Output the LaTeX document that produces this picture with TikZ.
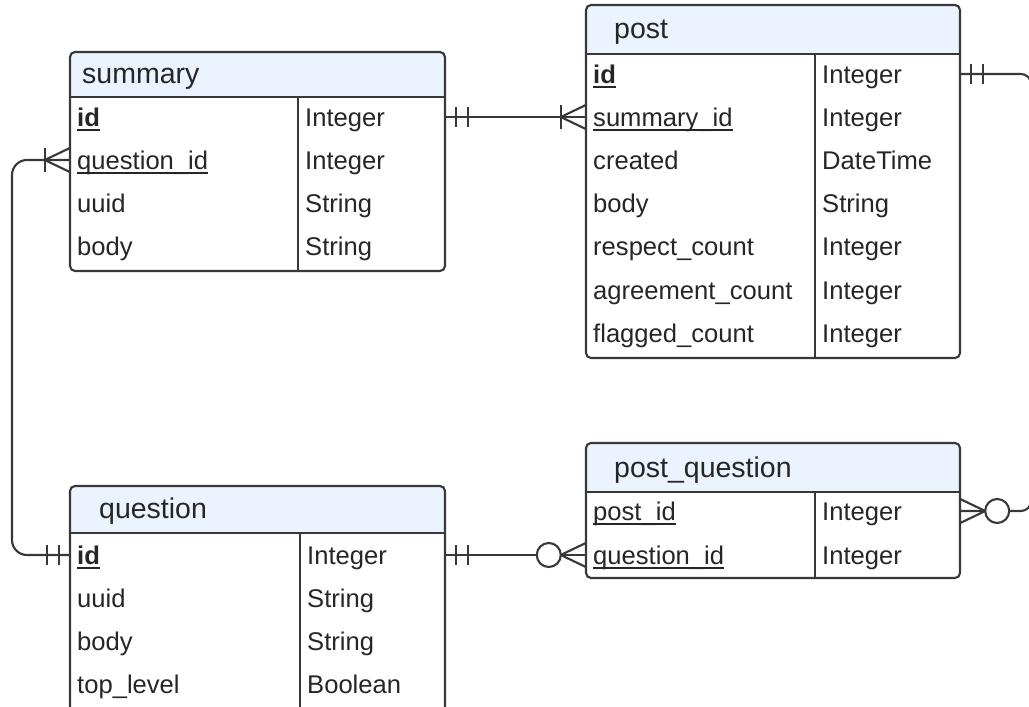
\documentclass[tikz,border=0pt]{standalone}
\usepackage{fontspec}
\setmainfont{Liberation Sans}
\usetikzlibrary{calc}

\definecolor{linec}{HTML}{383838}
\definecolor{hdrfill}{HTML}{EBF3FE}
\definecolor{txt}{HTML}{262626}

% underline at a fixed depth below the baseline
\newcommand\ul[1]{\setbox0\hbox{#1}\rlap{\rule[-4.5pt]{\wd0}{1.6pt}}\box0}
\newcommand\ulb[1]{\setbox0\hbox{\bfseries #1}\rlap{\rule[-4.5pt]{\wd0}{2pt}}\box0}

\tikzset{
  frame/.style={draw=linec, line width=2.1pt, rounded corners=5pt},
  rulel/.style={draw=linec, line width=2.1pt},
  conn/.style={draw=linec, line width=2.1pt},
  cell/.style={anchor=base west, inner sep=0pt, text=txt, font=\fontsize{25.6}{30}\selectfont},
  title/.style={anchor=base west, inner sep=0pt, text=txt, font=\fontsize{28.5}{34}\selectfont},
  rowbox/.style={minimum height=43pt, inner sep=0pt, draw=none},
}

% table body: #1 left, #2 right, #3 top, #4 header bottom, #5 bottom, #6 divider
\newcommand\ertable[6]{%
  \begin{scope}
    \clip (#1,#3) rectangle (#2,#4);
    \fill[hdrfill, rounded corners=5pt] (#1,#3) rectangle (#2,#4+10);
  \end{scope}
  \draw[frame] (#1,#3) rectangle (#2,#5);
  \draw[rulel] (#1,#4) -- (#2,#4);
  \draw[rulel] (#6,#4) -- (#6,#5);
}

% one row: #1 name, #2 left, #3 right, #4 divider, #5 centre y, #6 field, #7 type
\newcommand\erow[7]{%
  \node[rowbox, minimum width={#3-#2}] (#1) at ({(#2+#3)/2},#5) {};
  \node[cell] (#1-f) at ({#2+7},{#5+9}) {#6};
  \node[cell] (#1-t) at ({#4+7},{#5+9}) {#7};
}

% connector ends; #2 = +1 for marks to the right of the anchor, -1 to the left
\newcommand\bars[2]{%
  \draw[conn] ($(#1)+(#2*11,-10)$) -- ++(0,20);
  \draw[conn] ($(#1)+(#2*23,-10)$) -- ++(0,20);}
\newcommand\crow[2]{%
  \draw[conn] ($(#1)+(0,-12)$) -- ($(#1)+(#2*25,0)$) -- ($(#1)+(0,12)$);}
\newcommand\crowbar[2]{%
  \draw[conn] ($(#1)+(#2*25,-12)$) -- ++(0,24);}
\newcommand\ring[2]{%
  \draw[conn, fill=white] ($(#1)+(#2*37,0)$) circle (12pt);}

\begin{document}
\begin{tikzpicture}[x=1pt, y=-1pt]
\useasboundingbox (0,0) rectangle (1029,707);
\clip (0,0) rectangle (1029,707);
\fill[white] (0,0) rectangle (1029,707);

% summary
\ertable{70}{445}{52}{97}{271}{298}
\node[title] (s-h) at (82,83) {summary};
\erow{s-id}{70}{445}{298}{117}{\ulb{id}}{Integer}
\erow{s-qid}{70}{445}{298}{160}{\ul{question\_id}}{Integer}
\erow{s-uuid}{70}{445}{298}{203}{uuid}{String}
\erow{s-body}{70}{445}{298}{246}{body}{String}

% post
\ertable{586}{960}{5}{54}{358}{815}
\node[title] (p-h) at (614,38) {post};
\erow{p-id}{586}{960}{815}{74}{\ulb{id}}{Integer}
\erow{p-sid}{586}{960}{815}{117}{\ul{summary\_id}}{Integer}
\erow{p-created}{586}{960}{815}{160}{created}{DateTime}
\erow{p-body}{586}{960}{815}{203}{body}{String}
\erow{p-resp}{586}{960}{815}{246}{respect\_count}{Integer}
\erow{p-agree}{586}{960}{815}{290}{agreement\_count}{Integer}
\erow{p-flag}{586}{960}{815}{333}{flagged\_count}{Integer}

% question
\ertable{70}{445}{486}{533}{712}{300}
\node[title] (q-h) at (99,518) {question};
\erow{q-id}{70}{445}{300}{555}{\ulb{id}}{Integer}
\erow{q-uuid}{70}{445}{300}{598}{uuid}{String}
\erow{q-body}{70}{445}{300}{641}{body}{String}
\erow{q-top}{70}{445}{300}{684}{top\_level}{Boolean}

% post_question
\ertable{586}{960}{443}{492}{578}{815}
\node[title] (pq-h) at (614,477) {post\_question};
\erow{pq-pid}{586}{960}{815}{511}{\ul{post\_id}}{Integer}
\erow{pq-qid}{586}{960}{815}{555}{\ul{question\_id}}{Integer}

% relations
\coordinate (lt) at (12,350);
\coordinate (rt) at (1031,300);

\draw[conn] (s-id.east) -- (p-sid.west);
\bars{s-id.east}{1}
\crow{p-sid.west}{-1}
\crowbar{p-sid.west}{-1}

\draw[conn, rounded corners=15pt] (q-id.west) -| (lt) |- (s-qid.west);
\bars{q-id.west}{-1}
\crow{s-qid.west}{-1}
\crowbar{s-qid.west}{-1}

\draw[conn] (q-id.east) -- (pq-qid.west);
\bars{q-id.east}{1}
\crow{pq-qid.west}{-1}
\ring{pq-qid.west}{-1}

\draw[conn, rounded corners=10pt] (p-id.east) -| (rt) |- (pq-pid.east);
\bars{p-id.east}{1}
\crow{pq-pid.east}{1}
\ring{pq-pid.east}{1}
\end{tikzpicture}
\end{document}
